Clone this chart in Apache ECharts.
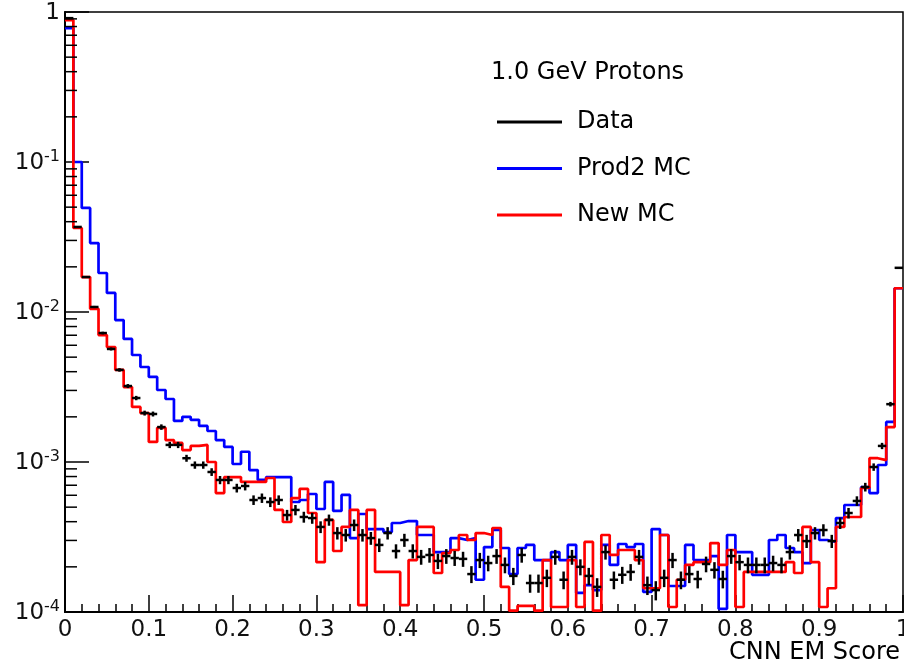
<!DOCTYPE html>
<html>
<head>
<meta charset="utf-8">
<script src="https://cdn.jsdelivr.net/npm/echarts@6/dist/echarts.min.js"></script>
<style>
html,body{margin:0;padding:0;background:#fff;}
#chart{width:904px;height:667px;}
</style>
</head>
<body>
<div id="chart"></div>
<script>
// ---- data (fraction of events per 0.01 bin of CNN EM score, bins 0..99) ----
const binWidth = 0.01;
const dataValues = [
0.91,0.0369,0.0171,0.0108,0.00724,0.00567,0.00411,0.00321,0.00267,0.00212,
0.00209,0.00171,0.00130,0.00130,0.00106,9.55e-4,9.55e-4,8.58e-4,7.59e-4,7.59e-4,
6.71e-4,6.92e-4,5.58e-4,5.75e-4,5.41e-4,5.58e-4,4.43e-4,4.79e-4,4.30e-4,4.23e-4,
3.69e-4,4.11e-4,3.36e-4,3.26e-4,3.80e-4,3.26e-4,3.11e-4,2.80e-4,3.36e-4,2.55e-4,
3.02e-4,2.55e-4,2.33e-4,2.40e-4,2.19e-4,2.36e-4,2.29e-4,2.26e-4,1.79e-4,2.22e-4,
2.12e-4,2.36e-4,2.06e-4,1.74e-4,2.40e-4,1.56e-4,1.56e-4,1.69e-4,2.33e-4,1.64e-4,
2.33e-4,2.00e-4,1.74e-4,1.47e-4,2.51e-4,1.64e-4,1.77e-4,1.85e-4,2.33e-4,1.51e-4,
1.40e-4,1.69e-4,2.22e-4,1.64e-4,1.79e-4,1.66e-4,2.09e-4,1.91e-4,1.66e-4,2.36e-4,
2.15e-4,2.06e-4,2.06e-4,2.06e-4,2.12e-4,2.06e-4,2.51e-4,3.26e-4,2.97e-4,3.36e-4,
3.52e-4,2.97e-4,3.92e-4,4.57e-4,5.50e-4,6.81e-4,9.26e-4,0.00128,0.00243,0.0197
];
const prod2Values = [
0.78,0.1,0.0494,0.0288,0.0182,0.0134,0.00884,0.00661,0.00517,0.00430,
0.00369,0.00302,0.00263,0.00188,0.00200,0.00191,0.00174,0.00161,0.00140,0.00126,
9.70e-4,0.00117,8.84e-4,7.59e-4,7.94e-4,7.94e-4,7.94e-4,5.41e-4,5.58e-4,6.12e-4,
4.86e-4,7.36e-4,4.72e-4,6.03e-4,3.11e-4,4.50e-4,3.57e-4,3.57e-4,3.41e-4,3.92e-4,
4.04e-4,4.04e-4,3.26e-4,3.26e-4,2.51e-4,2.51e-4,3.11e-4,3.02e-4,3.11e-4,1.64e-4,
2.71e-4,3.52e-4,2.67e-4,1.79e-4,2.67e-4,2.80e-4,2.22e-4,2.22e-4,2.51e-4,2.22e-4,
2.80e-4,1.34e-4,1.51e-4,1.40e-4,2.80e-4,2.06e-4,2.84e-4,2.71e-4,2.84e-4,1.36e-4,
3.57e-4,3.26e-4,1.49e-4,1.49e-4,2.80e-4,2.22e-4,2.22e-4,2.36e-4,1.05e-4,3.26e-4,
2.51e-4,2.51e-4,1.77e-4,1.77e-4,3.02e-4,3.26e-4,2.67e-4,2.51e-4,2.12e-4,3.52e-4,
3.02e-4,2.93e-4,4.23e-4,5.17e-4,5.17e-4,6.81e-4,6.21e-4,9.55e-4,0.00185,0.0144
];
const newMCValues = [
0.884,0.0363,0.0171,0.0105,0.00702,0.00584,0.00411,0.00316,0.00233,0.00212,
0.00136,0.00169,0.00140,0.00134,0.00120,0.00128,0.00130,0.00100,6.21e-4,7.94e-4,
7.94e-4,7.36e-4,7.36e-4,7.36e-4,7.82e-4,4.79e-4,3.98e-4,5.75e-4,6.61e-4,4.57e-4,
2.15e-4,4.11e-4,2.55e-4,3.69e-4,4.79e-4,1.11e-4,4.79e-4,1.85e-4,1.85e-4,1.85e-4,
1.11e-4,2.22e-4,3.69e-4,3.69e-4,1.82e-4,2.47e-4,2.59e-4,3.26e-4,3.02e-4,3.36e-4,
3.26e-4,3.63e-4,1.47e-4,1.02e-4,1.10e-4,1.10e-4,1.02e-4,2.22e-4,1.08e-4,1.08e-4,
2.22e-4,1.08e-4,2.93e-4,1.02e-4,3.26e-4,2.40e-4,2.59e-4,2.59e-4,2.22e-4,1.44e-4,
1.44e-4,3.26e-4,1.08e-4,1.64e-4,2.06e-4,2.15e-4,2.15e-4,2.88e-4,2.06e-4,2.59e-4,
1.08e-4,1.85e-4,1.85e-4,1.85e-4,1.85e-4,1.85e-4,2.15e-4,1.82e-4,3.69e-4,2.15e-4,
1.08e-4,1.44e-4,3.69e-4,4.30e-4,4.30e-4,6.71e-4,1.06e-3,1.03e-3,1.71e-3,0.0144
];
// normalisation weight per data event (sets the Poisson error bars)
const eventWeight = 3e-6;
const seriesNames = ['Data', 'Prod2 MC', 'New MC'];
const legendTitle = '1.0 GeV Protons';
const xTitle = 'CNN EM Score';
const yDecades = [1e-4, 1e-3, 1e-2, 1e-1];
const yMinorMultipliers = [2,3,4,5,6,7,8,9];

// ---- build library inputs ----
function stepData(vals){
  const d = vals.map((v,i)=>[+(i*binWidth).toFixed(2), v]);
  d.push([1, vals[vals.length-1]]);
  return d;
}
const pointData = dataValues.map((v,i)=>[+((i+0.5)*binWidth).toFixed(3), v]);
const yMinorTicks = [];
yDecades.forEach(d=>yMinorMultipliers.forEach(m=>yMinorTicks.push([0, d*m])));

const FONT = 'DejaVu Sans';
const chart = echarts.init(document.getElementById('chart'), null, {renderer:'canvas'});
chart.setOption({
  animation:false,
  backgroundColor:'#fff',
  grid:{left:65, right:1, top:12, bottom:55, containLabel:false, outerBoundsMode:'none',
    show:true, borderColor:'#000', borderWidth:1.5, backgroundColor:'transparent'},
  title:{text:legendTitle, left:491, top:61, padding:0,
    textStyle:{fontFamily:FONT, fontSize:24, fontWeight:'normal', color:'#000'}},
  legend:{left:497, top:110, padding:0, orient:'vertical', itemWidth:65, itemHeight:3, itemGap:22.5,
    selectedMode:false, icon:'rect',
    textStyle:{fontFamily:FONT, fontSize:24, color:'#000', padding:[0,0,0,10]},
    data:[{name:seriesNames[0]},{name:seriesNames[1]},{name:seriesNames[2]}]},
  graphic:[{type:'text', right:4, top:641, silent:true,
    style:{text:xTitle, fontFamily:FONT, fontSize:24, fill:'#000'}}],
  xAxis:{type:'value', min:0, max:1, interval:0.1,
    axisLine:{show:true, onZero:false, lineStyle:{color:'#000', width:2}},
    axisTick:{show:true, inside:true, length:17, lineStyle:{color:'#000', width:1.5}},
    minorTick:{show:true, splitNumber:5, length:8, lineStyle:{color:'#000', width:1.5}},
    splitLine:{show:false},
    axisLabel:{margin:7, hideOverlap:false, fontFamily:FONT, fontSize:23, color:'#111',
      formatter:v=> (v===0?'0':(v===1?'1':v.toFixed(1)))}
  },
  yAxis:{type:'log', logBase:10, min:1e-4, max:1,
    axisLine:{show:true, lineStyle:{color:'#000', width:2}},
    axisTick:{show:true, inside:true, length:24, lineStyle:{color:'#000', width:1.5}},
    splitLine:{show:false},
    axisLabel:{margin:5, color:'#111', fontFamily:FONT, fontSize:23,
      formatter:function(v){
        if (v >= 0.999) return '{b|1}';
        const e = Math.round(Math.log10(v));
        return '{b|10}{s|' + e + '}';
      },
      rich:{
        b:{fontFamily:FONT, fontSize:23, color:'#111', lineHeight:26, verticalAlign:'bottom'},
        s:{fontFamily:FONT, fontSize:16, color:'#111', lineHeight:16, verticalAlign:'top'}
      }
    }
  },
  series:[
    {name:'Prod2 MC', type:'line', step:'end', data:stepData(prod2Values), symbol:'none',
      lineStyle:{color:'#0000ff', width:2.7}, itemStyle:{color:'#0000ff'}, z:3},
    {name:'New MC', type:'line', step:'end', data:stepData(newMCValues), symbol:'none',
      lineStyle:{color:'#ff0000', width:2.7}, itemStyle:{color:'#ff0000'}, z:4},
    {name:'Data', type:'custom', data:pointData, encode:{x:0,y:1}, z:5,
      itemStyle:{color:'#000'},
      renderItem:function(params, api){
        const x = api.value(0), y = api.value(1);
        const err = Math.sqrt(y*eventWeight);
        const l = api.coord([x-binWidth/2, y]);
        const r = api.coord([x+binWidth/2, y]);
        const hi = api.coord([x, y+err]);
        const lo = api.coord([x, Math.max(y-err, 1e-5)]);
        const st = {stroke:'#000', lineWidth:2.5};
        return {type:'group', children:[
          {type:'line', shape:{x1:l[0], y1:l[1], x2:r[0], y2:r[1]}, style:st},
          {type:'line', shape:{x1:hi[0], y1:hi[1], x2:lo[0], y2:lo[1]}, style:st}
        ]};
      }
    },
    {name:'yMinorTicks', type:'custom', data:yMinorTicks, encode:{x:0,y:1}, silent:true, z:6,
      renderItem:function(params, api){
        const p = api.coord([0, api.value(1)]);
        return {type:'line', shape:{x1:p[0], y1:p[1], x2:p[0]+12, y2:p[1]}, style:{stroke:'#000', lineWidth:1.5}};
      }
    }
  ]
});
</script>
</body>
</html>
